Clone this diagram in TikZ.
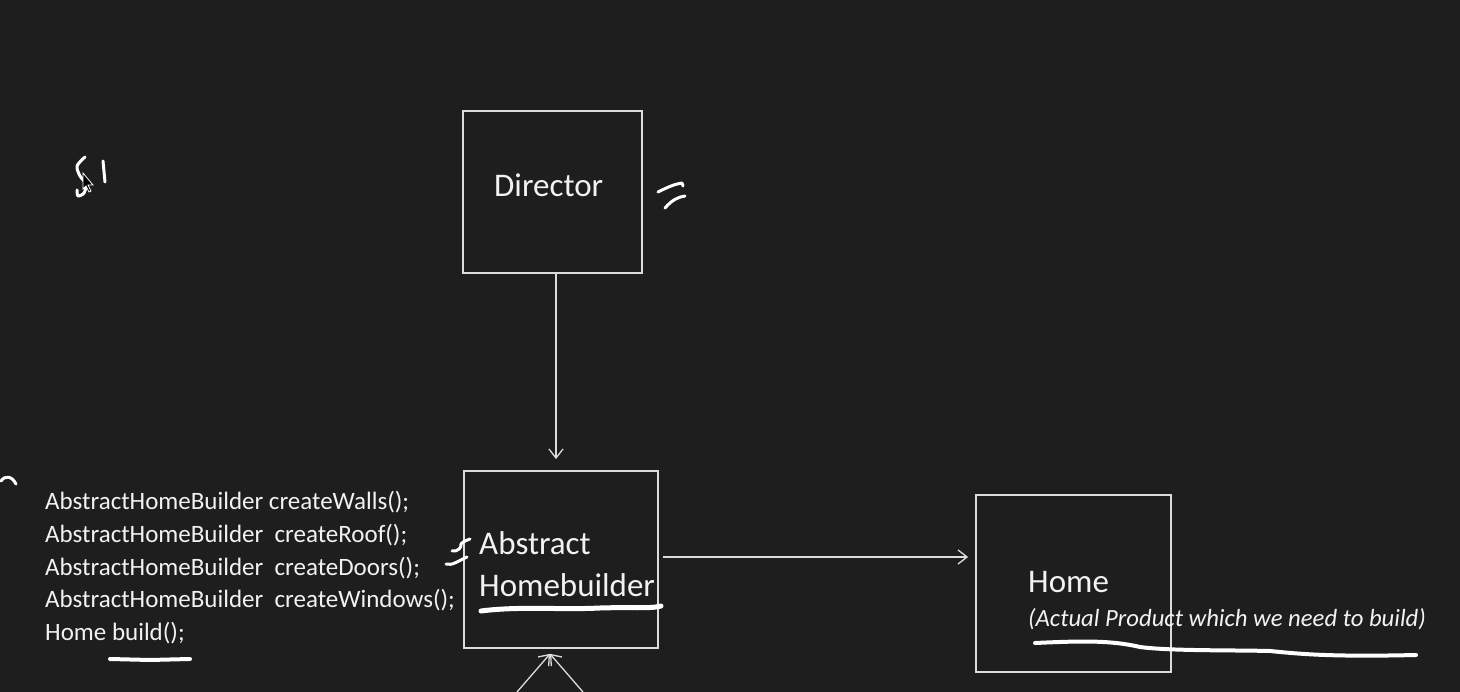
\documentclass[tikz,border=0pt]{standalone}
\usepackage{fontspec}
\setmainfont{Carlito}
\usetikzlibrary{arrows.meta}
\definecolor{bg}{HTML}{1E1E1E}
\definecolor{ln}{HTML}{DCDCDC}
\definecolor{tx}{HTML}{F2F2F2}
\begin{document}
\begin{tikzpicture}[x=1pt,y=-1pt,
  box/.style={draw=ln,line width=1.8pt,rectangle,inner sep=0pt},
  txt/.style={text=tx,inner sep=0pt,anchor=base west},
  big/.style={font=\fontsize{33}{40}\selectfont},
  code/.style={font=\fontsize{25}{33}\selectfont},
  arr/.style={draw=ln,line width=1.3pt,-{Straight Barb[length=9pt,width=14pt,line width=1.3pt]}},
  ink/.style={draw=white,line width=4pt,line cap=round,line join=round},
  thin ink/.style={draw=white,line width=3pt,line cap=round,line join=round}]
\fill[bg] (0,0) rectangle (1460,692);
\useasboundingbox (0,0) rectangle (1460,692);

% boxes
\node[box,minimum width=179pt,minimum height=162pt] (dir) at (552.5,192) {};
\node[box,minimum width=194pt,minimum height=177pt] (ahb) at (561,559.5) {};
\node[box,minimum width=195pt,minimum height=177pt] (home) at (1073.5,583.5) {};

% texts
\node[txt,big] (tdir) at (494,197) {Director};
\node[txt,big] (tabs) at (479,554) {Abstract};
\node[txt,big] (thb) at (479,596) {Homebuilder};
\node[txt,big] (thome) at (1028,592) {Home};
\node[txt,font=\fontsize{24.7}{30}\selectfont\itshape] (tprod) at (1028,626) {(Actual Product which we need to build)};

\node[txt,code] (c1) at (45,510) {AbstractHomeBuilder createWalls();};
\node[txt,code] (c2) at (45,542.5) {AbstractHomeBuilder\ \ createRoof();};
\node[txt,code] (c3) at (45,575) {AbstractHomeBuilder\ \ createDoors();};
\node[txt,code] (c4) at (45,607.5) {AbstractHomeBuilder\ \ createWindows();};
\node[txt,code] (c5) at (45,640) {Home build();};

% connectors
\draw[arr,shorten >=11pt] ([xshift=3.5pt]dir.south) -- ([xshift=-5pt]ahb.north);
\draw[arr,shorten <=4pt,shorten >=7pt] ([yshift=2.5pt]ahb.east) -- ([yshift=2.5pt]home.west |- ahb.east);
\coordinate (tip) at ([xshift=-11pt,yshift=-5pt]ahb.south);
\coordinate (b1) at (517,692);
\coordinate (b2) at (583,692);
\draw[arr] (b1) -- (tip);
\draw[arr] (b2) -- (tip);

% hand-drawn marks
\draw[ink] (110,659) -- (150,660) -- (190,659);
\draw[ink,line width=5pt] (481,611) .. controls (520,606) and (560,610) .. (600,608) .. controls (630,607) and (650,609) .. (661,606);
\draw[ink] (1035,643) .. controls (1080,641) and (1110,640) .. (1140,647) .. controls (1170,651) and (1230,650) .. (1270,651) .. controls (1300,654) and (1330,657) .. (1416,655);
% SI
\draw[thin ink] plot[smooth] coordinates {(85,157) (77,166) (80,176) (86,184) (84,193) (78,196) (77,190)};
\draw[thin ink] (103,161) -- (105,182);
\draw[fill=black,draw=white,line width=0.8pt] (83,173) -- (83,189) -- (86,186) -- (89,192) -- (91,191) -- (88,185) -- (93,185) -- cycle;
% = mark
\draw[thin ink] (658,192) .. controls (668,187) and (675,184) .. (682,183) -- (683,186);
\draw[thin ink] (665,208) .. controls (672,200) and (678,197) .. (685,196);
% tick marks at Abstract
\draw[thin ink] (452,551) .. controls (458,552) and (462,547) .. (461,544) .. controls (464,541) and (467,540) .. (470,539);
\draw[thin ink] (446,564) .. controls (452,566) and (458,561) .. (467,557);
% curl top left
\draw[thin ink] (1,481) .. controls (5,475) and (12,476) .. (16,484);
\end{tikzpicture}
\end{document}
